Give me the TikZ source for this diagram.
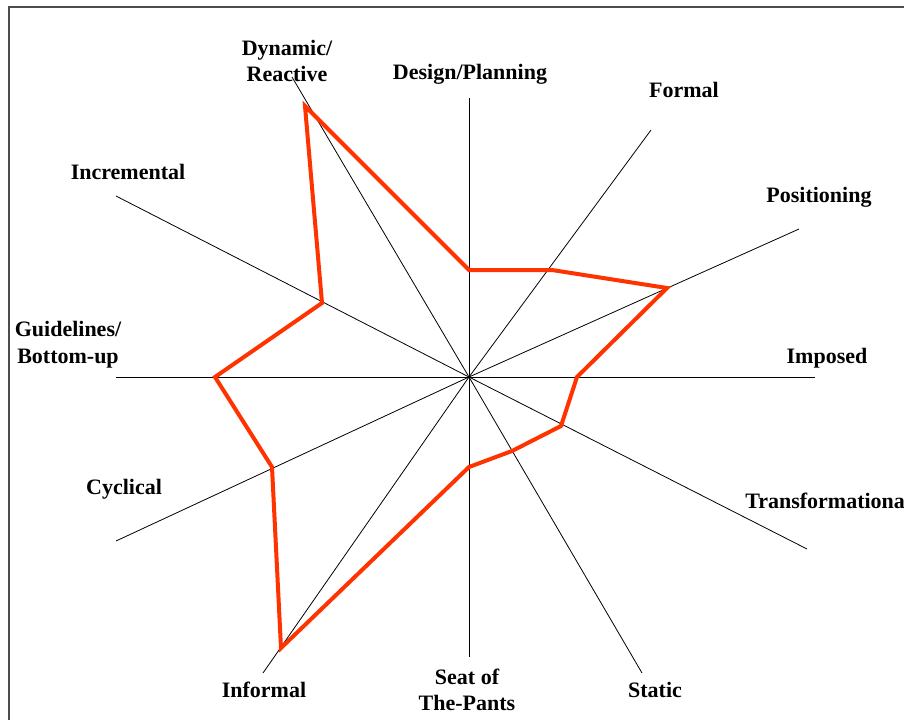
\documentclass[tikz,border=0pt]{standalone}
\usepackage{fontspec}
\setmainfont{Liberation Serif}
\definecolor{radarred}{HTML}{FF3300}
\begin{document}
\begin{tikzpicture}[x=0.75pt,y=-0.75pt,
  axis/.style={draw=black,line width=0.6pt},
  series/.style={draw=radarred,line width=3pt,line join=miter},
  lab/.style={font=\fontsize{16.5}{20}\selectfont\bfseries,align=center,inner sep=0pt},
  frame/.style={draw=black!70,line width=0.8pt}]
\useasboundingbox (0,0) rectangle (904,719);
\clip (0,0) rectangle (904,719);
\draw[frame] (9,7) rectangle (920,740);
% axis ends
\coordinate (O) at (469,377);
\coordinate (aDes) at (469,98);
\coordinate (aFor) at (651,130);
\coordinate (aPos) at (799,229);
\coordinate (aImp) at (815,377);
\coordinate (aTra) at (807,549);
\coordinate (aSta) at (642,673);
\coordinate (aSea) at (469,657);
\coordinate (aInf) at (263,673);
\coordinate (aCyc) at (116,541);
\coordinate (aGui) at (116,377);
\coordinate (aInc) at (116,196);
\coordinate (aDyn) at (292,77);
\foreach \e in {aDes,aFor,aPos,aImp,aTra,aSta,aSea,aInf,aCyc,aGui,aInc,aDyn}
  \draw[axis] (O) -- (\e);
% series vertices
\coordinate (vDes) at (469,270);
\coordinate (vFor) at (552,270);
\coordinate (vPos) at (667,288);
\coordinate (vImp) at (577,377);
\coordinate (vTra) at (561,426);
\coordinate (vSta) at (512,451);
\coordinate (vSea) at (469,467);
\coordinate (vInf) at (281,648);
\coordinate (vCyc) at (272,467);
\coordinate (vGui) at (215,377);
\coordinate (vInc) at (322,303);
\coordinate (vDyn) at (305,106);
\draw[series] (vDes) -- (vFor) -- (vPos) -- (vImp) -- (vTra) -- (vSta) -- (vSea)
  -- (vInf) -- (vCyc) -- (vGui) -- (vInc) -- (vDyn) -- cycle;
% labels
\node[lab] (lDyn) at (287,61) {Dynamic/\\Reactive};
\node[lab] (lDes) at (470,74) {Design/Planning};
\node[lab] (lFor) at (684,90) {Formal};
\node[lab] (lPos) at (819,197) {Positioning};
\node[lab] (lImp) at (827,358) {Imposed};
\node[lab,anchor=west] (lTra) at (745,501) {Transformational};
\node[lab] (lInc) at (128,172) {Incremental};
\node[lab] (lGui) at (68,345) {Guidelines/\\Bottom-up};
\node[lab] (lCyc) at (124,489) {Cyclical};
\node[lab] (lInf) at (264,690) {Informal};
\node[lab] (lSea) at (467,690) {Seat of\\The-Pants};
\node[lab] (lSta) at (655,690) {Static};
\end{tikzpicture}
\end{document}
